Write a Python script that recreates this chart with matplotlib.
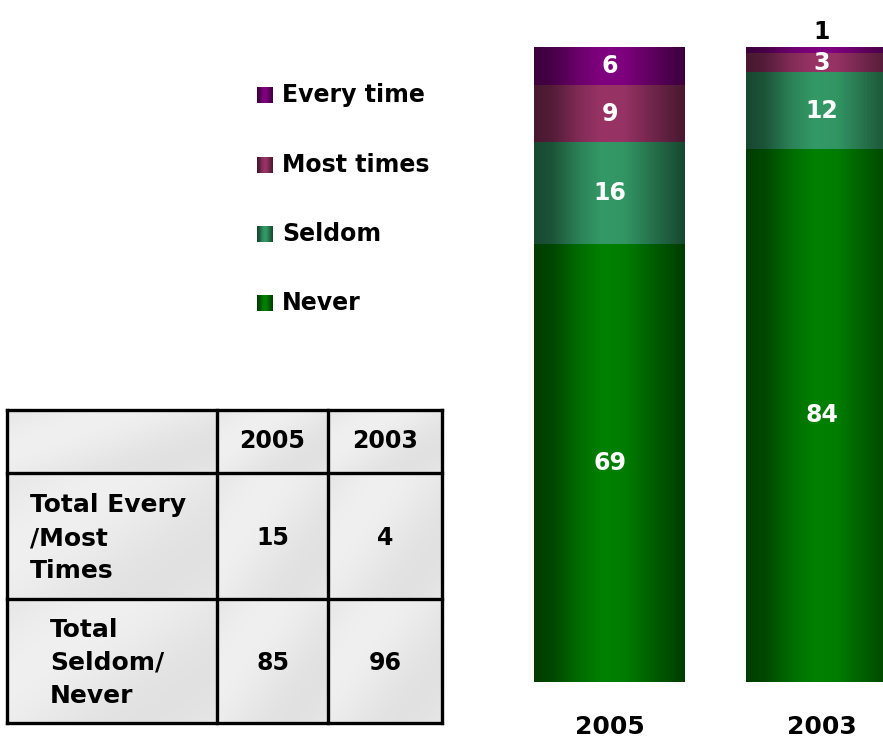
import numpy as np
import matplotlib
matplotlib.use("Agg")
import matplotlib.pyplot as plt
from matplotlib.colors import to_rgb

plt.rcParams["font.family"] = ["DejaVu Sans"]
plt.rcParams["font.weight"] = "bold"

# data
years = ["2005", "2003"]
categories = ["Never", "Seldom", "Most times", "Every time"]
never = [69, 84]
seldom = [16, 12]
most_times = [9, 3]
every_time = [6, 1]
table_rows = ["Total Every\n/Most\nTimes", "Total\nSeldom/\nNever"]

colors = {
    "Never": "#008000",
    "Seldom": "#339966",
    "Most times": "#993366",
    "Every time": "#800080",
}


def shade(color, n=200):
    # horizontal "cylinder" shading: dark edges, bright centre
    rgb = np.array(to_rgb(color))
    t = np.linspace(0, 1, n)
    k = np.interp(t, [0, 0.12, 0.3, 0.45, 0.6, 0.8, 1],
                  [0.47, 0.55, 0.85, 1.0, 0.98, 0.72, 0.47])
    return (rgb[None, :] * k[:, None])[None, :, :]


def cell_bg(n=60):
    yy, xx = np.mgrid[0:1:n * 1j, 0:1:n * 1j]
    v = 0.885 + 0.055 * np.sin(np.pi * (0.55 * xx + 0.45 * yy + 0.2)) ** 2
    return np.dstack([v, v, v])


fig = plt.figure(figsize=(8.83, 7.41), dpi=100)
W, H = 883, 741

# overlay in pixel coords for legend + table
lax = fig.add_axes([0, 0, 1, 1])
lax.set_xlim(0, W)
lax.set_ylim(H, 0)
lax.axis("off")

# ---- bars
ax = fig.add_axes([490 / W, 59 / H, 393 / W, 635 / H])
series = [never, seldom, most_times, every_time]
x = np.arange(len(years))
width = 0.712
bottom = np.zeros(len(years))
for name, vals in zip(categories, series):
    bars = ax.bar(x, vals, width, bottom=bottom, color="none", linewidth=0)
    for b in bars:
        ax.imshow(shade(colors[name]),
                  extent=(b.get_x(), b.get_x() + b.get_width(),
                          b.get_y(), b.get_y() + b.get_height()),
                  aspect="auto", interpolation="bilinear", zorder=2)
    for xi, v, b0 in zip(x, vals, bottom):
        if v >= 3:
            ax.text(xi, b0 + v / 2, str(v), ha="center", va="center",
                    color="white", fontsize=17, fontweight="bold", zorder=3)
        else:
            ax.text(xi, b0 + v + 2.3, str(v), ha="center", va="center",
                    color="black", fontsize=17, fontweight="bold",
                    clip_on=False, zorder=3)
    bottom += np.array(vals)

for xi, yr in zip(x, years):
    ax.text(xi, -0.071, yr, transform=ax.get_xaxis_transform(),
            ha="center", va="center", fontsize=18, fontweight="bold")

ax.set_xlim(-0.564, 1.29)
ax.set_ylim(0, 100)
ax.axis("off")

# ---- legend (top to bottom)
leg_y = [95, 165, 234, 303]
for name, ly in zip(categories[::-1], leg_y):
    lax.imshow(shade(colors[name], 40), extent=(257, 273, ly + 8, ly - 8),
               aspect="auto", interpolation="bilinear")
    lax.text(282, ly, name, ha="left", va="center", fontsize=17,
             fontweight="bold")

# ---- table
col_x = [7, 217, 328, 442]
row_y = [410, 473, 599, 723]
for r in range(3):
    for c in range(3):
        lax.imshow(cell_bg(), extent=(col_x[c], col_x[c + 1], row_y[r + 1], row_y[r]),
                   aspect="auto", interpolation="bilinear")
for cx in col_x:
    lax.plot([cx, cx], [row_y[0], row_y[-1]], color="black", lw=2.4,
             solid_capstyle="projecting")
for ry in row_y:
    lax.plot([col_x[0], col_x[-1]], [ry, ry], color="black", lw=2.4,
             solid_capstyle="projecting")

totals = [
    [e + m for e, m in zip(every_time, most_times)],
    [s + n for s, n in zip(seldom, never)],
]
hy = (row_y[0] + row_y[1]) / 2
for c, yr in enumerate(years):
    lax.text((col_x[c + 1] + col_x[c + 2]) / 2, hy, yr, ha="center",
             va="center", fontsize=17, fontweight="bold")
label_x = [30, 50]
for r, (lab, vals) in enumerate(zip(table_rows, totals)):
    cy = (row_y[r + 1] + row_y[r + 2]) / 2
    lax.text(label_x[r], cy + 2, lab, ha="left", va="center", fontsize=18,
             fontweight="bold", linespacing=1.45)
    for c, v in enumerate(vals):
        lax.text((col_x[c + 1] + col_x[c + 2]) / 2, cy + 2, str(v), ha="center",
                 va="center", fontsize=17, fontweight="bold")

lax.set_xlim(0, W)
lax.set_ylim(H, 0)

fig.savefig("out.png", dpi=100)
